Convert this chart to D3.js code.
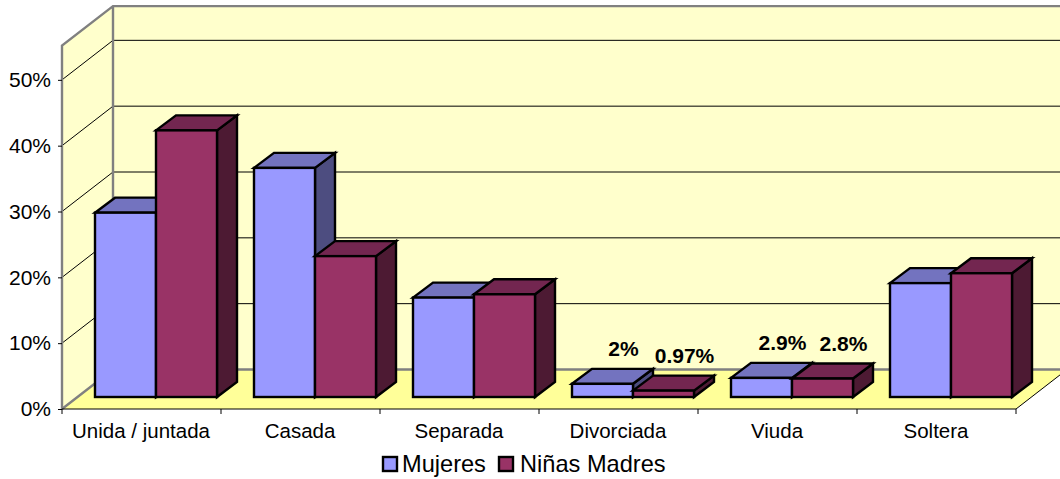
<!DOCTYPE html>
<html><head><meta charset="utf-8">
<script src="https://cdn.jsdelivr.net/npm/d3@7"></script>
<style>html,body{margin:0;background:#fff}svg{display:block}text{font-family:"Liberation Sans",Arial,sans-serif;fill:#000}</style>
</head><body><svg id="c" width="1060" height="479"></svg>
<script>
const categories = ["Unida / juntada","Casada","Separada","Divorciada","Viuda","Soltera"];
const seriesNames = ["Mujeres","Niñas Madres"];
const mujeres = [28.0,34.8,15.1,2,2.9,17.3];
const ninas = [40.5,21.4,15.6,0.97,2.8,18.8];
const labelsMujeres = [null,null,null,"2%","2.9%",null];
const labelsNinas = [null,null,null,"0.97%","2.8%",null];
const yTicks = [0,10,20,30,40,50];
const faces = [
 {front:"#9999ff",top:"#7373bf",side:"#4d4d80"},
 {front:"#993366",top:"#732650",side:"#4d1a33"}
];
const svg = d3.select("#c");
const x0=62,x1=1016,yB=409,yT=45.6,dx=51,dy=-39.5,maxV=55.2;
const xC=d3.scaleBand().domain(categories).range([x0,x1]);
const xS=d3.scaleBand().domain(seriesNames).range([33,33+122]);
const y=d3.scaleLinear().domain([0,maxV]).range([yB,yT]);
const depthX=20,depthY=-15,barShift=-12;
const poly=(pts)=>pts.map(p=>p.join(",")).join(" ");
const wall=svg.append("g");
const W=1060;
const topV=maxV, gray="#808080";
// back wall, side wall, floor
wall.append("polygon").attr("points",poly([[x0+dx,y(topV)+dy],[W+5,y(topV)+dy],[W+5,yB+dy],[x0+dx,yB+dy]])).attr("fill","#ffffcc");
wall.append("polygon").attr("points",poly([[x0,y(topV)],[x0+dx,y(topV)+dy],[x0+dx,yB+dy],[x0,yB]])).attr("fill","#ffffcc");
wall.append("polygon").attr("points",poly([[x0,yB],[x1,yB],[x1+dx,yB+dy],[x0+dx,yB+dy]])).attr("fill","#ffff99");
// gridlines
yTicks.filter(t=>t>0).forEach(t=>{
  wall.append("path").attr("d",`M${x0},${y(t)}L${x0+dx},${y(t)+dy}L${W},${y(t)+dy}`).attr("fill","none").attr("stroke","#000").attr("stroke-width",1);
});
// wall edges
wall.append("path").attr("d",`M${x0},${yB}L${x0},${y(topV)}L${x0+dx},${y(topV)+dy}L${W},${y(topV)+dy}M${x0+dx},${y(topV)+dy}L${x0+dx},${yB+dy}L${W},${yB+dy}M${x0},${yB}L${x0+dx},${yB+dy}`)
  .attr("fill","none").attr("stroke",gray).attr("stroke-width",2.4);
wall.append("path").attr("d",`M${x0},${yB}L${x1},${yB}L${x1+dx},${yB+dy}`).attr("fill","none").attr("stroke","#000").attr("stroke-width",1);
// axes
const yAxis=d3.axisLeft(y).tickValues(yTicks).tickFormat(d=>d+"%").tickSize(4).tickPadding(7);
const gy=svg.append("g").attr("transform",`translate(${x0},0)`).call(yAxis);
gy.select(".domain").remove();
gy.selectAll("text").attr("font-size",21).attr("font-family",null);
const xA=d3.axisBottom(xC).tickSize(0).tickPadding(14);
const gx=svg.append("g").attr("transform",`translate(-0.5,${yB})`).call(xA);
gx.select(".domain").remove();
gx.selectAll("text").attr("font-size",20.5).attr("font-family",null);
const tickPos=[x0,...categories.map(c=>xC(c)+xC.bandwidth())];
svg.append("g").selectAll("line").data(tickPos).join("line")
  .attr("x1",d=>d).attr("x2",d=>d).attr("y1",yB).attr("y2",yB+5).attr("stroke","#000").attr("stroke-width",1);
// bars
const bars=svg.append("g");
const sw=2.4;
categories.forEach((c,i)=>{
  [mujeres,ninas].forEach((vals,s)=>{
    const xa=xC(c)+xS(seriesNames[s]),xb=xa+xS.bandwidth();
    const ya=y(vals[i])+barShift,yb=y(0)+barShift;
    const g=bars.append("g").attr("stroke","#000").attr("stroke-width",sw).attr("stroke-linejoin","miter");
    g.append("polygon").attr("points",poly([[xb,ya],[xb+depthX,ya+depthY],[xb+depthX,yb+depthY],[xb,yb]])).attr("fill",faces[s].side);
    g.append("polygon").attr("points",poly([[xa,ya],[xa+depthX,ya+depthY],[xb+depthX,ya+depthY],[xb,ya]])).attr("fill",faces[s].top);
    g.append("rect").attr("x",xa).attr("y",ya).attr("width",xb-xa).attr("height",yb-ya).attr("fill",faces[s].front);
  });
});
// data labels drawn last
const labelG=svg.append("g");
categories.forEach((c,i)=>{
  [labelsMujeres,labelsNinas].forEach((ls,s)=>{
    if(!ls[i])return;
    const vals=s?ninas:mujeres;
    labelG.append("text").text(ls[i])
      .attr("x",xC(c)+xS(seriesNames[s])+xS.bandwidth()/2+21)
      .attr("y",y(vals[i])+barShift-27.5)
      .attr("text-anchor","middle").attr("font-size",21).attr("font-weight","bold");
  });
});
// legend
const legend=svg.append("g");
const lx=[382,498],tx=[402,520];
seriesNames.forEach((n,s)=>{
  legend.append("rect").attr("x",lx[s]+1).attr("y",457).attr("width",14).attr("height",14).attr("fill",faces[s].front).attr("stroke","#000").attr("stroke-width",2.4);
  legend.append("text").text(n).attr("x",tx[s]).attr("y",472).attr("font-size",23.6);
});
</script></body></html>
